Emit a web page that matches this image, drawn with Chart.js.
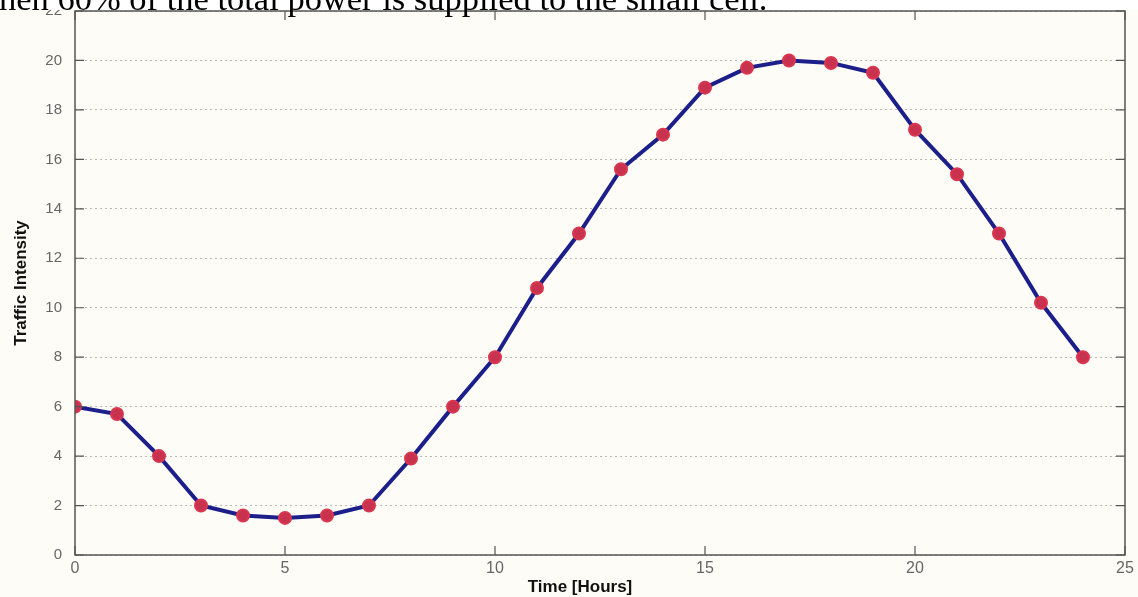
<!DOCTYPE html>
<html>
<head>
<meta charset="utf-8">
<script src="https://cdn.jsdelivr.net/npm/chart.js@4.4.1/dist/chart.umd.min.js"></script>
<style>
  html, body { margin: 0; padding: 0; background: #fdfcf6; overflow: hidden; }
</style>
</head>
<body>
<canvas id="myChart" width="1138" height="597"></canvas>
<script>
const hours = [0, 1, 2, 3, 4, 5, 6, 7, 8, 9, 10, 11, 12, 13, 14, 15, 16, 17, 18, 19, 20, 21, 22, 23, 24];
const traffic = [6.0, 5.7, 4.0, 2.0, 1.6, 1.5, 1.6, 2.0, 3.9, 6.0, 8.0, 10.8, 13.0, 15.6, 17.0, 18.9, 19.7, 20.0, 19.9, 19.5, 17.2, 15.4, 13.0, 10.2, 8.0];
const xTicks = [0, 5, 10, 15, 20, 25];
const yTicks = [0, 2, 4, 6, 8, 10, 12, 14, 16, 18, 20, 22];
const caption = "When 60% of the total power is supplied to the small cell.";
const xTitle = "Time [Hours]";

const points = hours.map((h, i) => ({ x: h, y: traffic[i] }));

// page background, white strip with the clipped caption line on top
const page = {
  id: "page",
  beforeDraw(chart) {
    const { ctx, width, height } = chart;
    ctx.save();
    ctx.fillStyle = "#fdfcf6";
    ctx.fillRect(0, 0, width, height);
    ctx.restore();
  },
  afterDraw(chart) {
    const { ctx, width } = chart;
    ctx.save();
    // the white text strip covers the top half of the "22" label
    ctx.fillStyle = "#ffffff";
    ctx.fillRect(0, 0, width, chart.chartArea.top - 1);
    ctx.font = '34.5px "Liberation Serif", serif';
    ctx.fillStyle = "#000";
    ctx.textBaseline = "alphabetic";
    const w = ctx.measureText("W").width;
    ctx.fillText(caption, -w - 1, 10);
    ctx.restore();
  },
};

// box around the plot + inward tick marks on all sides + x title
const frame = {
  id: "frame",
  afterDatasetsDraw(chart) {
    const { ctx, chartArea: a, scales } = chart;
    ctx.save();
    ctx.strokeStyle = "#555";
    ctx.lineWidth = 1.5;
    ctx.strokeRect(a.left, a.top, a.right - a.left, a.bottom - a.top);
    ctx.lineWidth = 1.2;
    ctx.beginPath();
    xTicks.forEach((v) => {
      const px = scales.x.getPixelForValue(v);
      ctx.moveTo(px, a.bottom); ctx.lineTo(px, a.bottom - 9);
      ctx.moveTo(px, a.top); ctx.lineTo(px, a.top + 9);
    });
    yTicks.forEach((v) => {
      const py = scales.y.getPixelForValue(v);
      ctx.moveTo(a.left, py); ctx.lineTo(a.left + 9, py);
      ctx.moveTo(a.right, py); ctx.lineTo(a.right - 9, py);
    });
    ctx.stroke();

    ctx.font = 'bold 17px "Liberation Sans", sans-serif';
    ctx.fillStyle = "#111";
    ctx.textAlign = "center";
    ctx.textBaseline = "alphabetic";
    ctx.fillText(xTitle, (a.left + a.right) / 2 - 20, 592);
    ctx.restore();
  },
};

new Chart(document.getElementById("myChart"), {
  type: "line",
  data: {
    datasets: [
      {
        data: points,
        borderColor: "#1c1f8a",
        borderWidth: 4,
        tension: 0,
        pointRadius: 6,
        pointBackgroundColor: "#c8324f",
        pointBorderColor: "#d9364f",
        pointBorderWidth: 2,
      },
    ],
  },
  options: {
    responsive: false,
    animation: false,
    layout: { padding: { top: 11, right: 13, left: 0, bottom: 0 } },
    plugins: { legend: { display: false }, tooltip: { enabled: false } },
    scales: {
      x: {
        type: "linear",
        min: 0,
        max: 25,
        afterBuildTicks: (s) => { s.ticks = xTicks.map((v) => ({ value: v })); },
        afterFit: (s) => { s.height = 42; },
        grid: { display: false, drawTicks: false },
        border: { display: false },
        ticks: { color: "#666", font: { family: "Liberation Sans", size: 16 }, padding: 4 },
      },
      y: {
        min: 0,
        max: 22,
        afterBuildTicks: (s) => { s.ticks = yTicks.map((v) => ({ value: v })); },
        afterFit: (s) => { s.width = 75; s.paddingTop = 0; s.paddingBottom = 0; },
        grid: { color: "#bbb6b4", borderDash: [2, 3], lineWidth: 1, drawTicks: false },
        border: { display: false, dash: [2, 3] },
        ticks: { color: "#666", font: { family: "Liberation Sans", size: 15 }, padding: 13 },
        title: {
          display: true,
          text: "Traffic Intensity",
          color: "#111",
          font: { family: "Liberation Sans", size: 17, weight: "bold" },
          padding: { top: 11, bottom: 0 },
        },
      },
    },
  },
  plugins: [page, frame],
});
</script>
</body>
</html>
